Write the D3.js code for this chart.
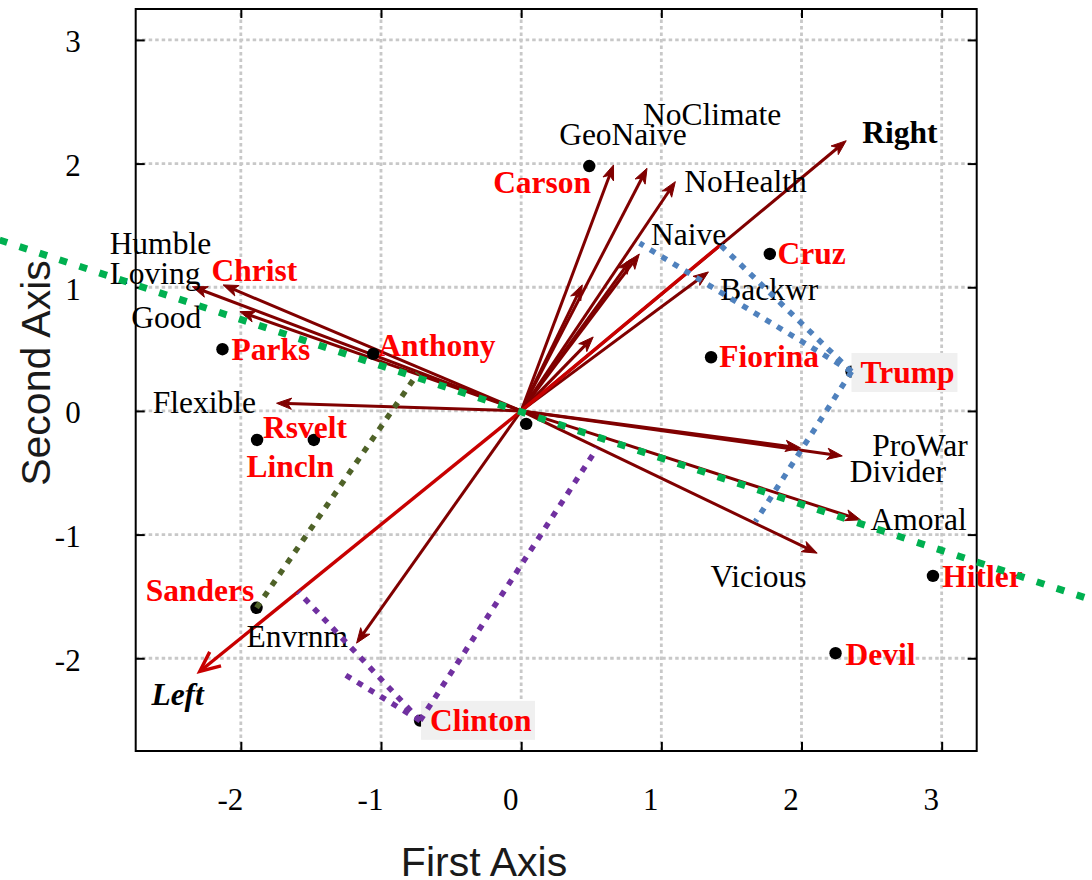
<!DOCTYPE html>
<html>
<head>
<meta charset="utf-8">
<script src="https://cdn.jsdelivr.net/npm/d3@7"></script>
<style>
  body { margin: 0; background: #fff; }
  svg { display: block; }
</style>
</head>
<body>
<svg id="chart" width="1092" height="880"></svg>
<script>
// ---- biplot data (first axis, second axis) ----

// attribute loadings drawn as arrows from the origin
const vectors = [
  { name: "GeoNaive",  x: 0.659, y: 1.989 },
  { name: "NoClimate", x: 0.898, y: 1.962 },
  { name: "NoHealth",  x: 1.100, y: 1.854 },
  { name: "Naive",     x: 0.843, y: 1.269 },
  { name: "Naive2",    x: 0.786, y: 1.229 },
  { name: "Stupid",    x: 0.436, y: 1.019 },
  { name: "Rigid",     x: 0.514, y: 0.598 },
  { name: "Backwr",    x: 1.336, y: 1.124 },
  { name: "Right",     x: 2.319, y: 2.185 },
  { name: "ProWar",    x: 2.291, y: -0.364 },
  { name: "Divider",   x: 1.993, y: -0.299 },
  { name: "Amoral",    x: 2.421, y: -0.881 },
  { name: "Vicious",   x: 2.112, y: -1.150 },
  { name: "Envrnm",    x: -1.174, y: -1.878 },
  { name: "Flexible",  x: -1.745, y: 0.062 },
  { name: "Loving",    x: -2.346, y: 1.005 },
  { name: "Humble",    x: -2.126, y: 1.019 },
  { name: "Good",      x: -2.007, y: 0.803 }
];

// left pole of the left/right direction
const leftPole = { name: "Left", x: -2.293, y: -2.107 };
// Trump's score along the Right direction
const rightScore = { x: 1.421, y: 1.342 };

// candidate scores
const points = [
  { name: "Carson",  x: 0.486,  y: 1.980 },
  { name: "Cruz",    x: 1.774,  y: 1.269 },
  { name: "Fiorina", x: 1.355,  y: 0.434 },
  { name: "Trump",   x: 2.357,  y: 0.318 },
  { name: "Anthony", x: -1.055, y: 0.461 },
  { name: "Parks",   x: -2.131, y: 0.499 },
  { name: "Rsvelt",  x: -1.884, y: -0.235 },
  { name: "Lincln",  x: -1.479, y: -0.235 },
  { name: "Sanders", x: -1.888, y: -1.592 },
  { name: "Clinton", x: -0.721, y: -2.504 },
  { name: "Hitler",  x: 2.938,  y: -1.334 },
  { name: "Devil",   x: 2.243,  y: -1.959 },
  { name: "Mean",    x: 0.036,  y: -0.105 }
];

// attribute labels: left edge and vertical centre, in axis units
const attributeLabels = [
  { text: "GeoNaive",  x: 0.271,  y: 2.231 },
  { text: "NoClimate", x: 0.869,  y: 2.393 },
  { text: "NoHealth",  x: 1.164,  y: 1.851 },
  { text: "Naive",     x: 0.926,  y: 1.423 },
  { text: "Backwr",    x: 1.421,  y: 0.978 },
  { text: "Humble",    x: -2.936, y: 1.350 },
  { text: "Loving",    x: -2.936, y: 1.108 },
  { text: "Good",      x: -2.781, y: 0.752 },
  { text: "Flexible",  x: -2.629, y: 0.065 },
  { text: "ProWar",    x: 2.505,  y: -0.283 },
  { text: "Divider",   x: 2.345,  y: -0.493 },
  { text: "Amoral",    x: 2.493,  y: -0.881 },
  { text: "Vicious",   x: 1.350,  y: -1.342 },
  { text: "Envrnm",    x: -1.959, y: -1.827 }
];

// candidate labels
const candidateLabels = [
  { text: "Carson",  x: -0.200, y: 1.847 },
  { text: "Cruz",    x: 1.829,  y: 1.269 },
  { text: "Fiorina", x: 1.414,  y: 0.437 },
  { text: "Trump",   x: 2.421,  y: 0.307, boxed: true },
  { text: "Christ",  x: -2.209, y: 1.132 },
  { text: "Parks",   x: -2.066, y: 0.493 },
  { text: "Anthony", x: -1.019, y: 0.525 },
  { text: "Rsvelt",  x: -1.841, y: -0.137 },
  { text: "Lincln",  x: -1.959, y: -0.453 },
  { text: "Sanders", x: -2.679, y: -1.455 },
  { text: "Clinton", x: -0.650, y: -2.506, boxed: true },
  { text: "Hitler",  x: 3.005,  y: -1.342 },
  { text: "Devil",   x: 2.314,  y: -1.973 }
];

// pole labels
const poleLabels = [
  { text: "Right", x: 2.434,  y: 2.247 },
  { text: "Left",  x: -2.638, y: -2.296 }
];

// projections of single candidates onto attribute directions
const trumpProjections = [
  { x: 0.845, y: 1.356 },
  { x: 1.421, y: 1.342 },
  { x: 1.671, y: -0.895 }
];
const clintonProjections = [
  { x: 0.541,  y: -0.302 },
  { x: -1.591, y: -1.461 },
  { x: -1.293, y: -2.108 }
];
const sandersProjections = [
  { x: -0.736, y: 0.307 }
];

// good/evil dividing line
const divider = [ { x: -3.721, y: 1.382 }, { x: 4.079, y: -1.531 } ];

const tickValues = [-2, -1, 0, 1, 2, 3];

// ---- drawing ----
const svg = d3.select("#chart");
const plotLeft = 135.7, plotRight = 976.7, plotTop = 9, plotBottom = 751;

const x = d3.scaleLinear().domain([-2.75, 3.25]).range([plotLeft, plotRight]);
const y = d3.scaleLinear().domain([-2.75, 3.25]).range([plotBottom, plotTop]);

const serif = "'Liberation Serif', 'Times New Roman', serif";
const sans = "'Liberation Sans', Arial, sans-serif";
const darkRed = "#800000";
const brightRed = "#c80000";
const labelSize = 31.5;

// grid
const grid = svg.append("g").attr("stroke", "#c8c8c8").attr("stroke-width", 2.8)
  .attr("stroke-dasharray", "3.5,3");
grid.selectAll("line.v").data(tickValues).join("line").attr("class", "v")
  .attr("x1", d => x(d)).attr("x2", d => x(d))
  .attr("y1", plotBottom).attr("y2", plotTop);
grid.selectAll("line.h").data(tickValues).join("line").attr("class", "h")
  .attr("y1", d => y(d)).attr("y2", d => y(d))
  .attr("x1", plotLeft).attr("x2", plotRight);

// axes with inward ticks
const fmt = d => String(d);
function styleAxis(g) {
  g.select(".domain").remove();
  g.selectAll(".tick line").attr("stroke", "#000").attr("stroke-width", 2);
  g.selectAll(".tick text").attr("font-family", serif).attr("font-size", 31).attr("fill", "#000");
}
svg.append("g").attr("transform", `translate(0,${plotBottom})`)
  .call(d3.axisBottom(x).tickValues(tickValues).tickSizeInner(-9).tickSizeOuter(0)
    .tickPadding(37).tickFormat(fmt))
  .call(styleAxis)
  .call(g => g.selectAll(".tick text").attr("dx", -11));
svg.append("g").attr("transform", `translate(0,${plotTop})`)
  .call(d3.axisTop(x).tickValues(tickValues).tickSizeInner(-9).tickSizeOuter(0).tickFormat(""))
  .call(styleAxis);
svg.append("g").attr("transform", `translate(${plotLeft},0)`)
  .call(d3.axisLeft(y).tickValues(tickValues).tickSizeInner(-9).tickSizeOuter(0)
    .tickPadding(55).tickFormat(fmt))
  .call(styleAxis)
  .call(g => g.selectAll(".tick text").attr("dy", "0.38em"));
svg.append("g").attr("transform", `translate(${plotRight},0)`)
  .call(d3.axisRight(y).tickValues(tickValues).tickSizeInner(-9).tickSizeOuter(0).tickFormat(""))
  .call(styleAxis);

// frame
svg.append("rect").attr("x", plotLeft).attr("y", plotTop)
  .attr("width", plotRight - plotLeft).attr("height", plotBottom - plotTop)
  .attr("fill", "none").attr("stroke", "#000").attr("stroke-width", 2);

// axis titles
svg.append("text").attr("x", 484).attr("y", 876).attr("text-anchor", "middle")
  .attr("font-family", sans).attr("font-size", 41).attr("fill", "#1a1a1a")
  .text("First Axis");
svg.append("text").attr("transform", "translate(50,373) rotate(-90)")
  .attr("text-anchor", "middle")
  .attr("font-family", sans).attr("font-size", 41).attr("fill", "#1a1a1a")
  .text("Second Axis");

// arrows
function arrow(g, d, color, width, headLen, headAng, notch, filled) {
  const x0 = x(0), y0 = y(0), x1 = x(d.x), y1 = y(d.y);
  const a = Math.atan2(y1 - y0, x1 - x0);
  const nx = x1 - notch * Math.cos(a), ny = y1 - notch * Math.sin(a);
  g.append("line").attr("x1", x0).attr("y1", y0)
    .attr("x2", filled ? nx : x1 - 1.5 * Math.cos(a)).attr("y2", filled ? ny : y1 - 1.5 * Math.sin(a))
    .attr("stroke", color).attr("stroke-width", width);
  const w1 = [x1 - headLen * Math.cos(a - headAng), y1 - headLen * Math.sin(a - headAng)];
  const w2 = [x1 - headLen * Math.cos(a + headAng), y1 - headLen * Math.sin(a + headAng)];
  if (filled) {
    g.append("path")
      .attr("d", `M${w1[0]},${w1[1]}L${x1},${y1}L${w2[0]},${w2[1]}L${nx},${ny}Z`)
      .attr("fill", color).attr("stroke", color).attr("stroke-width", 1)
      .attr("stroke-linejoin", "miter");
  } else {
    g.append("path")
      .attr("d", `M${w1[0]},${w1[1]}L${x1},${y1}L${w2[0]},${w2[1]}`)
      .attr("fill", "none").attr("stroke", color).attr("stroke-width", width)
      .attr("stroke-linejoin", "miter");
  }
}
const arrowG = svg.append("g");
vectors.forEach(d => arrow(arrowG, d, darkRed, 3, 16, 0.36, 11, true));

// left/right direction in bright red
const redG = svg.append("g");
redG.append("line").attr("x1", x(0)).attr("y1", y(0))
  .attr("x2", x(rightScore.x)).attr("y2", y(rightScore.y))
  .attr("stroke", brightRed).attr("stroke-width", 3.4);
arrow(redG, leftPole, brightRed, 3.4, 22, 0.42, 0, false);

// candidate points
svg.append("g").selectAll("circle").data(points).join("circle")
  .attr("cx", d => x(d.x)).attr("cy", d => y(d.y)).attr("r", 6.2)
  .attr("fill", "#000");

// labels
const labelG = svg.append("g");
labelG.selectAll("text.attr").data(attributeLabels).join("text").attr("class", "attr")
  .attr("x", d => x(d.x)).attr("y", d => y(d.y)).attr("dy", "0.33em")
  .attr("font-family", serif).attr("font-size", labelSize).attr("fill", "#000")
  .text(d => d.text);

const candG = labelG.append("g");
candidateLabels.forEach(d => {
  const t = candG.append("text")
    .attr("x", x(d.x)).attr("y", y(d.y)).attr("dy", "0.33em")
    .attr("font-family", serif).attr("font-size", labelSize).attr("font-weight", "bold")
    .attr("fill", "#ff0000").text(d.text);
  if (d.boxed) {
    const b = t.node().getBBox();
    candG.insert("rect", () => t.node())
      .attr("x", b.x - 9).attr("y", y(d.y) - 20)
      .attr("width", b.width + 12).attr("height", 39)
      .attr("fill", "#f0f0f0");
  }
});

labelG.selectAll("text.pole").data(poleLabels).join("text").attr("class", "pole")
  .attr("x", d => x(d.x)).attr("y", d => y(d.y)).attr("dy", "0.33em")
  .attr("font-family", serif).attr("font-size", labelSize).attr("font-weight", "bold")
  .attr("font-style", d => d.text === "Left" ? "italic" : "normal")
  .attr("fill", "#000").text(d => d.text);

// dotted projection lines
function dotted(from, ends, color, width, dash) {
  const p = points.find(q => q.name === from);
  svg.append("g").selectAll("line").data(ends).join("line")
    .attr("x1", x(p.x)).attr("y1", y(p.y))
    .attr("x2", d => x(d.x)).attr("y2", d => y(d.y))
    .attr("stroke", color).attr("stroke-width", width)
    .attr("stroke-dasharray", dash);
}
dotted("Trump", trumpProjections, "#4f81bd", 5.5, "6,7.5");
dotted("Clinton", clintonProjections, "#7030a0", 5.5, "6,7.5");
dotted("Sanders", sandersProjections, "#4f6228", 5.5, "6,7.5");

// dividing line, not clipped to the frame
svg.append("line")
  .attr("x1", x(divider[0].x)).attr("y1", y(divider[0].y))
  .attr("x2", x(divider[1].x)).attr("y2", y(divider[1].y))
  .attr("stroke", "#00b050").attr("stroke-width", 7)
  .attr("stroke-dasharray", "8,13");
</script>
</body>
</html>
